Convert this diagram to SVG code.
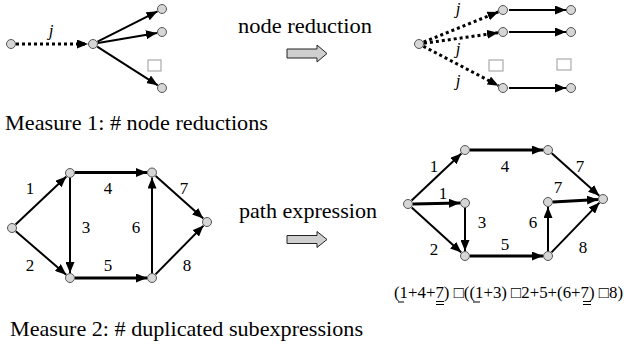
<svg xmlns="http://www.w3.org/2000/svg" width="624" height="347" viewBox="0 0 624 347">
<style>
.n{fill:#d6d6d6;stroke:#555;stroke-width:1}
.e{stroke:#000;stroke-width:2;fill:none;marker-end:url(#ah)}
.t{stroke-width:3.2}
.d{stroke-dasharray:3,3;stroke-width:3}
.lbl{font-family:"Liberation Serif","Times New Roman",serif;font-size:17px;fill:#000;text-anchor:middle}
.j{font-family:"Liberation Serif","Times New Roman",serif;font-size:17px;font-style:italic;fill:#000;text-anchor:middle}
.cap{font-family:"Liberation Serif","Times New Roman",serif;font-size:22px;fill:#000}
.box{fill:#fff;stroke:#aaa;stroke-width:1.2}
.big{fill:#cfcfcf;stroke:#222;stroke-width:1}
.ul{stroke:#000;stroke-width:1}
</style>
<defs>
<marker id="ah" markerUnits="userSpaceOnUse" markerWidth="11" markerHeight="9" refX="11" refY="4.5" orient="auto">
<path d="M0,0 L11,4.5 L0,9 z" fill="#000"/>
</marker>
</defs>

<g id="connectors">
<line class="e d" x1="16" y1="44" x2="88" y2="44"/>
<line class="e" x1="97.5" y1="41.7" x2="157.5" y2="11.3"/>
<line class="e" x1="98" y1="43.1" x2="157" y2="32.9"/>
<line class="e" x1="97.2" y1="46.7" x2="157.8" y2="85.3"/>
<line class="e d" x1="423.6" y1="42.1" x2="498.4" y2="11.9"/>
<line class="e d" x1="424" y1="43.3" x2="498" y2="32.7"/>
<line class="e d" x1="423.4" y1="46.3" x2="498.6" y2="85.7"/>
<line class="e" x1="509" y1="10" x2="566" y2="10"/>
<line class="e" x1="509" y1="32" x2="566" y2="32"/>
<line class="e" x1="509" y1="88" x2="566" y2="88"/>
<line class="e" x1="15.6" y1="224.6" x2="66.4" y2="176.4"/>
<line class="e" x1="15.8" y1="231.3" x2="66.2" y2="274.7"/>
<line class="e" x1="70" y1="178" x2="70" y2="273"/>
<line class="e t" x1="75" y1="172.5" x2="147" y2="172.5"/>
<line class="e t" x1="75" y1="278" x2="147" y2="278"/>
<line class="e" x1="152" y1="273" x2="152" y2="177.5"/>
<line class="e" x1="155.7" y1="175.9" x2="203.3" y2="218.6"/>
<line class="e" x1="155.5" y1="274.4" x2="203.5" y2="225.6"/>
<line class="e" x1="411.6" y1="200.6" x2="461.4" y2="153.4"/>
<line class="e t" x1="413" y1="204" x2="460" y2="203"/>
<line class="e" x1="411.7" y1="207.4" x2="461.3" y2="252.6"/>
<line class="e" x1="465" y1="208" x2="465" y2="251"/>
<line class="e t" x1="470" y1="150" x2="543" y2="150"/>
<line class="e t" x1="470" y1="256" x2="543" y2="256"/>
<line class="e" x1="548" y1="251" x2="548" y2="207"/>
<line class="e t" x1="553" y1="202" x2="598" y2="199.5"/>
<line class="e" x1="551.7" y1="153.3" x2="599.3" y2="195.7"/>
<line class="e" x1="551.5" y1="252.4" x2="599.5" y2="202.6"/>
</g>

<g id="nodes-top-left">
<circle id="tl-a" class="n" cx="11" cy="44" r="4.5"/>
<circle id="tl-b" class="n" cx="93" cy="44" r="4.5"/>
<circle id="tl-c1" class="n" cx="162" cy="9" r="4.5"/>
<circle id="tl-c2" class="n" cx="162" cy="32" r="4.5"/>
<circle id="tl-c3" class="n" cx="162" cy="88" r="4.5"/>
</g>
<g id="nodes-top-right">
<circle id="tr-a" class="n" cx="419" cy="44" r="4.5"/>
<circle id="tr-m1" class="n" cx="503" cy="10" r="4.5"/>
<circle id="tr-m2" class="n" cx="503" cy="32" r="4.5"/>
<circle id="tr-m3" class="n" cx="503" cy="88" r="4.5"/>
<circle id="tr-r1" class="n" cx="571" cy="10" r="4.5"/>
<circle id="tr-r2" class="n" cx="571" cy="32" r="4.5"/>
<circle id="tr-r3" class="n" cx="571" cy="88" r="4.5"/>
</g>
<g id="nodes-bottom-left">
<circle id="bl-l" class="n" cx="12" cy="228" r="4.5"/>
<circle id="bl-tl" class="n" cx="70" cy="173" r="4.5"/>
<circle id="bl-bl" class="n" cx="70" cy="278" r="4.5"/>
<circle id="bl-tr" class="n" cx="152" cy="172.5" r="4.5"/>
<circle id="bl-br" class="n" cx="152" cy="278" r="4.5"/>
<circle id="bl-r" class="n" cx="207" cy="222" r="4.5"/>
</g>
<g id="nodes-bottom-right">
<circle id="br-l" class="n" cx="408" cy="204" r="4.5"/>
<circle id="br-tl" class="n" cx="465" cy="150" r="4.5"/>
<circle id="br-ml" class="n" cx="465" cy="203" r="4.5"/>
<circle id="br-bl" class="n" cx="465" cy="256" r="4.5"/>
<circle id="br-tr" class="n" cx="548" cy="150" r="4.5"/>
<circle id="br-mr" class="n" cx="548" cy="202" r="4.5"/>
<circle id="br-br" class="n" cx="548" cy="256" r="4.5"/>
<circle id="br-r" class="n" cx="603" cy="199" r="4.5"/>
</g>

<g id="labels">
<text class="j" x="51" y="36">j</text>
<text class="j" x="458" y="14">j</text>
<text class="j" x="458" y="54">j</text>
<text class="j" x="458" y="86">j</text>
<rect class="box" x="148" y="60" width="13" height="11"/>
<rect class="box" x="489" y="60" width="14" height="11"/>
<rect class="box" x="557" y="59" width="14" height="11"/>
<text class="lbl" x="30" y="194">1</text>
<text class="lbl" x="30" y="271">2</text>
<text class="lbl" x="86" y="233">3</text>
<text class="lbl" x="108" y="194">4</text>
<text class="lbl" x="108" y="271">5</text>
<text class="lbl" x="136" y="233">6</text>
<text class="lbl" x="184" y="194">7</text>
<text class="lbl" x="187" y="271">8</text>
<text class="lbl" x="434" y="172">1</text>
<text class="lbl" x="443" y="199">1</text>
<text class="lbl" x="505" y="172">4</text>
<text class="lbl" x="580" y="172">7</text>
<text class="lbl" x="558" y="193">7</text>
<text class="lbl" x="482" y="228">3</text>
<text class="lbl" x="533" y="228">6</text>
<text class="lbl" x="434" y="255">2</text>
<text class="lbl" x="505" y="250">5</text>
<text class="lbl" x="583" y="253">8</text>
</g>

<g id="transform-arrows">
<path class="big" d="M287,49 H317 V45 L327,53.5 L317,62 V58 H287 Z"/>
<path class="big" d="M287,235.5 H317 V231.5 L327,239.5 L317,247.5 V243.5 H287 Z"/>
<text class="cap" x="238" y="33" textLength="134" lengthAdjust="spacingAndGlyphs">node reduction</text>
<text class="cap" x="239" y="218" textLength="138" lengthAdjust="spacingAndGlyphs">path expression</text>
</g>

<g id="captions">
<text class="cap" x="5" y="130" textLength="263" lengthAdjust="spacingAndGlyphs">Measure 1: # node reductions</text>
<text class="cap" x="10" y="336" textLength="353" lengthAdjust="spacingAndGlyphs">Measure 2: # duplicated subexpressions</text>
</g>

<g id="formula">
<text x="394" y="298" font-family="'Liberation Serif','Times New Roman',serif" font-size="17" textLength="229" lengthAdjust="spacingAndGlyphs">(1+4+7) □((1+3) □2+5+(6+7) □8)</text>
<line class="ul" x1="398" y1="302" x2="404" y2="302"/>
<line class="ul" x1="436" y1="301.5" x2="444" y2="301.5"/>
<line class="ul" x1="436" y1="304.5" x2="444" y2="304.5"/>
<line class="ul" x1="473" y1="302" x2="480" y2="302"/>
<line class="ul" x1="583" y1="301.5" x2="591" y2="301.5"/>
<line class="ul" x1="583" y1="304.5" x2="591" y2="304.5"/>
</g>
</svg>
